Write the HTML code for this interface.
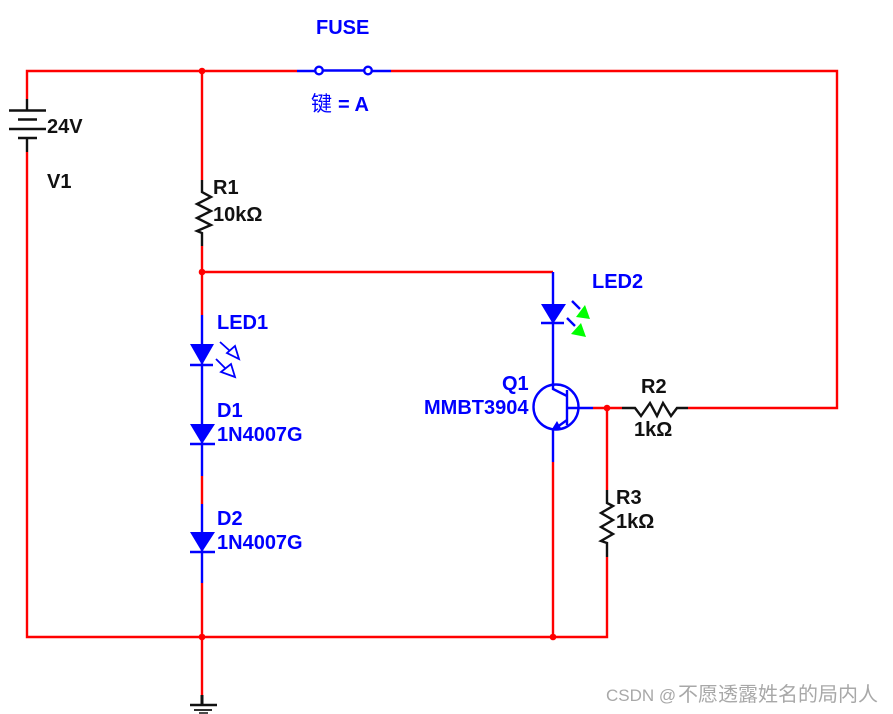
<!DOCTYPE html>
<html><head><meta charset="utf-8">
<style>
html,body{margin:0;padding:0;background:#fff}
svg{display:block}
text{font-family:"Liberation Sans","Noto Sans CJK SC",sans-serif;font-weight:bold;font-size:20px}
.b{fill:#0000ff}.k{fill:#111}
</style></head>
<body>
<svg width="893" height="714" viewBox="0 0 893 714" xmlns="http://www.w3.org/2000/svg">
<g fill="none" stroke="#ff0000" stroke-width="2.400">
<path d="M27 99V71H297M391 71H837V408H688M202 71V180M202 246V315M202 476V504M202 583V695M27 152V637H607V557M607 490V408M593 408H622M553 462V637M202 272H553"/>
</g>
<g fill="none" stroke="#111" stroke-width="2.400">
<path d="M27 99V110M9 110.500H46M18 119.500H37M9 129H46M18 138H37M27 138V152"/>
<path d="M202 180V192L211 197L197 204L211 211L197 218L211 225L197 231L202 233V246"/>
<path d="M202 695V704" stroke-width="3"/>
<path d="M190 705H217" stroke-width="2.500"/><path d="M194 710H212" stroke-width="1.800"/><path d="M199 713H208" stroke-width="1.500"/>
<path d="M622 408H635L641 416L650 403L657 416L663 403L671 416L677 408H688"/>
<path d="M607 490V503L613 506L601 513L613 520L601 527L613 534L601 541L607 543V557"/>
</g>
<g fill="none" stroke="#0000ff" stroke-width="2.400">
<path d="M297 71H315M323 70.500H364M372 71H391"/>
<circle cx="319" cy="70.500" r="3.800"/><circle cx="368" cy="70.500" r="3.800"/>
<path d="M202 315V476M202 504V583"/>
<path d="M190 365H213M190 444H215M190 552H215"/>
<path d="M220 342L230 351M216 359L225 368" stroke-width="1.800"/>
<path d="M235 346L239 359L227 353ZM231 364L235 377L221 372Z" stroke-width="1.800"/>
<path d="M553 272V389L567 396M541 323H564M572 301L580 309M567 318L575 326" />
<circle cx="556" cy="407" r="22.500"/>
<path d="M567 390V425M567 408H593M567 420L553 430V462"/>
</g>
<g fill="#0000ff">
<path d="M190 344H214L202 365ZM190 424H215L202 444ZM190 532H215L202 552ZM541 304H566L553 324Z"/>
<path d="M557 421L562 430L552 429Z"/>
</g>
<g fill="#00ff00">
<path d="M585 305L590 319L576 317ZM581 323L586 337L571 334Z"/>
</g>
<g fill="#ff0000">
<circle cx="202" cy="71" r="3.300"/><circle cx="202" cy="272" r="3.300"/><circle cx="202" cy="637" r="3.300"/><circle cx="553" cy="637" r="3.300"/><circle cx="607" cy="408" r="3.300"/>
</g>
<text class="b" x="316" y="34">FUSE</text>
<text class="b" x="311" y="111" style="font-weight:normal;font-size:21px">键</text>
<text class="b" x="338" y="111">= A</text>
<text class="k" x="47" y="133">24V</text>
<text class="k" x="47" y="188">V1</text>
<text class="k" x="213" y="194">R1</text>
<text class="k" x="213" y="221">10kΩ</text>
<text class="b" x="217" y="329">LED1</text>
<text class="b" x="217" y="417">D1</text>
<text class="b" x="217" y="441">1N4007G</text>
<text class="b" x="217" y="525">D2</text>
<text class="b" x="217" y="549">1N4007G</text>
<text class="b" x="592" y="288">LED2</text>
<text class="b" x="502" y="390">Q1</text>
<text class="b" x="424" y="414">MMBT3904</text>
<text class="k" x="641" y="393">R2</text>
<text class="k" x="634" y="436">1kΩ</text>
<text class="k" x="616" y="504">R3</text>
<text class="k" x="616" y="528">1kΩ</text>
<text x="606" y="701" style="font-weight:normal;font-size:17px;fill:#a8a8a8">CSDN @<tspan x="678" style="font-size:20px">不愿透露姓名的局内人</tspan></text>
</svg>
</body></html>
